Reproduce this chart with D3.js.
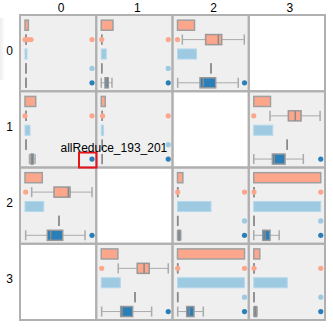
<!DOCTYPE html>
<html><head><meta charset="utf-8">
<script src="https://cdn.jsdelivr.net/npm/d3@7"></script>
<style>html,body{margin:0;padding:0;background:#fff;} svg{display:block;font-family:"Liberation Sans",Arial,Helvetica,sans-serif;}</style>
</head><body><svg id="c" width="333" height="328"></svg>
<script>
const rowLabels = ["0","1","2","3"];
const colLabels = ["0","1","2","3"];
// per cell, row-major (row*4+col); null = empty cell. Values on a 0-100 scale per cell.
const salmonBar = [5, 17.5, 25.4, null, 16, 6, null, 25, 25.8, null, 8, 100, null, 24.8, 100, 9];
const salmonBox = [
  [1.5,1.5,1.5,1.5,1.5], [0.7,0.7,0.7,0.7,0.7], [7.2,42,61,66,99.7], null,
  [1.5,1.5,1.5,1.5,1.5], [1.5,1.5,1.5,1.5,1.5], null, [24.3,51.6,62,70.6,99],
  [10,43.3,64.6,67.2,100], null, [0.3,0.3,0.3,0.3,0.3], [0.4,0.4,0.4,0.4,0.4],
  null, [25.4,53.7,64,71.6,100], [0.3,0.3,0.3,0.3,0.3], [0.4,0.4,0.4,0.4,0.4]
];
const salmonOut = [[0,4,9,100],[0.7,100],[0],null,[0,100],[2,100],null,[0],[1],null,[0.3,100],[0.4,100],null,[0.7],[0.3,100],[0.4,100]];
const lightBar = [3, 7.5, 28.4, null, 7.5, 3.5, null, 28.4, 28, null, 50, 100, null, 28.4, 100, 50];
const lightBox = [
  [1.5,1.5,1.5,1.5,1.5], [0.7,0.7,0.7,0.7,0.7], [50,50,50,50,50], null,
  [1.5,1.5,1.5,1.5,1.5], [1.5,1.5,1.5,1.5,1.5], null, [50,50,50,50,50],
  [50.7,50.7,50.7,50.7,50.7], null, [0.3,0.3,0.3,0.3,0.3], [0.4,0.4,0.4,0.4,0.4],
  null, [50.4,50.4,50.4,50.4,50.4], [0.3,0.3,0.3,0.3,0.3], [0.4,0.4,0.4,0.4,0.4]
];
const lightOut = [[100],[100],[],null,[],[100],null,[],[],null,[100],[100],null,[],[100],[100]];
const darkBox = [
  [1.5,1.5,1.5,1.5,1.5], [0,5.6,7.8,10.5,16], [0.3,33.6,38.5,57,90.7], null,
  [6.7,9,10,12.4,15], [1.5,1.5,1.5,1.5,1.5], null, [0,27.8,30.7,46.7,74],
  [1,33.3,38.4,56.3,89.6], null, [0,1,2,4,5], [0,13.4,16.9,24.3,38],
  null, [0.6,29,31.3,46.9,75.2], [0.3,13.7,17.6,24.6,38.5], [0,1,2,4,5]
];
const darkOut = [[100],[100],[100],null,[100],[100],null,[100],[100],null,[100],[100],null,[100],[100],[100]];
const tooltipText = "allReduce_193_201";
const tooltipCell = 4;

const salmon = "#fca68c", light = "#9ecae1", dark = "#2a7fb8";
const svg = d3.select("#c");

// left faint shadow
const defs = svg.append("defs");
const lg = defs.append("linearGradient").attr("id","sh").attr("x1","0").attr("x2","1");
lg.append("stop").attr("offset","0").attr("stop-color","#000").attr("stop-opacity",0.07);
lg.append("stop").attr("offset","1").attr("stop-color","#000").attr("stop-opacity",0);
svg.append("rect").attr("x",0).attr("y",18).attr("width",5).attr("height",62).attr("fill","url(#sh)");

const X = d3.scaleBand().domain(d3.range(4)).range([20, 325]);
const Y = d3.scaleBand().domain(d3.range(4)).range([15, 320]);
const cs = X.bandwidth();
const xs = d3.scaleLinear().domain([0,100]).range([5, 72]);
const ys = d3.scaleBand().domain(d3.range(5)).range([3, 75]).paddingInner(0.3).paddingOuter(0.15);
const bw = ys.bandwidth();

svg.selectAll("text.col").data(colLabels).join("text").attr("class","col")
  .attr("x",(d,i)=>X(i)+cs/2+3).attr("y",12).attr("text-anchor","middle")
  .attr("font-size",12).attr("fill","#000").text(d=>d);
svg.selectAll("text.row").data(rowLabels).join("text").attr("class","row")
  .attr("x",9.5).attr("y",(d,i)=>Y(i)+cs/2+1.5).attr("text-anchor","middle")
  .attr("font-size",12).attr("fill","#000").text(d=>d);

function drawBox(g, vals, outs, band, color) {
  const cy = ys(band) + bw/2;
  const [lo,q1,md,q3,hi] = vals;
  g.append("line").attr("x1",xs(lo)).attr("x2",xs(hi)).attr("y1",cy).attr("y2",cy)
    .attr("stroke","#aaa").attr("stroke-width",1);
  [lo,hi].forEach(v=>g.append("line").attr("x1",xs(v)).attr("x2",xs(v))
    .attr("y1",ys(band)).attr("y2",ys(band)+bw).attr("stroke","#aaa").attr("stroke-width",1.5));
  g.append("rect").attr("x",xs(q1)).attr("y",ys(band)).attr("width",xs(q3)-xs(q1)).attr("height",bw)
    .attr("fill",color).attr("stroke","#999").attr("stroke-width",1.5);
  g.append("line").attr("x1",xs(md)).attr("x2",xs(md)).attr("y1",ys(band)).attr("y2",ys(band)+bw)
    .attr("stroke","#8a8a8a").attr("stroke-width",1.5);
  g.selectAll(null).data(outs).join("circle").attr("cx",d=>xs(d)).attr("cy",cy).attr("r",2.6).attr("fill",color);
}

for (let r=0;r<4;r++) for (let c=0;c<4;c++) {
  const i = r*4+c;
  const g = svg.append("g").attr("transform",`translate(${X(c)},${Y(r)})`);
  const empty = salmonBar[i] === null;
  g.append("rect").attr("width",cs).attr("height",cs).attr("fill", empty ? "#fff" : "#efefef");
  if (empty) continue;
  g.append("rect").attr("x",xs(0)).attr("y",ys(0)).attr("width",xs(salmonBar[i])-xs(0)).attr("height",bw)
    .attr("fill",salmon).attr("stroke","#a0a0a0").attr("stroke-width",1.5);
  drawBox(g, salmonBox[i], salmonOut[i], 1, salmon);
  g.append("rect").attr("x",xs(0)).attr("y",ys(2)).attr("width",xs(lightBar[i])-xs(0)).attr("height",bw)
    .attr("fill",light).attr("stroke","#b5d8ec").attr("stroke-width",1);
  drawBox(g, lightBox[i], lightOut[i], 3, light);
  drawBox(g, darkBox[i], darkOut[i], 4, dark);
}
// grid lines
for (let r=0;r<4;r++) for (let c=0;c<4;c++) {
  svg.append("rect").attr("x",X(c)).attr("y",Y(r)).attr("width",cs).attr("height",cs)
    .attr("fill","none").attr("stroke","#b0b0b0").attr("stroke-width",2);
}
// tooltip + highlight
const tr = Math.floor(tooltipCell/4), tc = tooltipCell%4;
const tx = X(tc), ty = Y(tr);
const dotX = tx + xs(darkOut[tooltipCell][0]), dotY = ty + ys(4) + bw/2;
svg.append("rect").attr("x",dotX-13).attr("y",dotY-6.5).attr("width",17.5).attr("height",15)
  .attr("fill","none").attr("stroke","#e8141c").attr("stroke-width",2);
svg.append("text").attr("x",dotX-31.5).attr("y",dotY-7.5).attr("font-size",12).attr("fill","#000").text(tooltipText);
</script></body></html>
